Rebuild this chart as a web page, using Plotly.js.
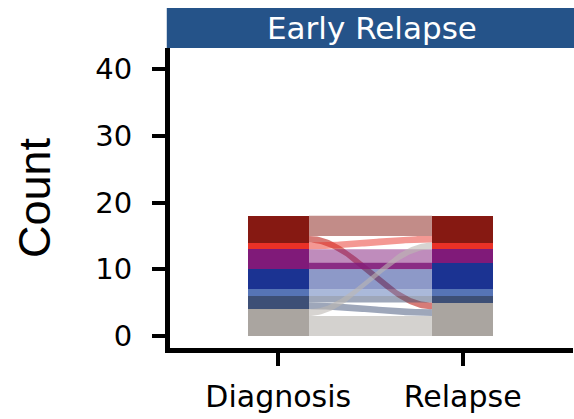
<!DOCTYPE html>
<html><head><meta charset="utf-8">
<script src="https://cdn.plot.ly/plotly-3.0.1.min.js"></script>
<style>html,body{margin:0;padding:0;background:#fff}#chart{width:574px;height:419px}</style>
</head><body><div id="chart"></div>
<script>
// ---------------- data ----------------
const stages = ['Diagnosis', 'Relapse'];
const subtypes = ['Grey', 'Slate', 'LightBlue', 'Blue', 'Purple', 'Red', 'DarkRed']; // bottom -> top
const diagnosisCounts = [4, 2, 1, 3, 3, 1, 4];
const relapseCounts   = [5, 1, 1, 4, 2, 1, 4];
const flowFrom  = ['DarkRed', 'DarkRed', 'Red', 'Purple', 'Purple', 'Blue', 'LightBlue', 'Slate', 'Slate', 'Grey', 'Grey'];
const flowTo    = ['DarkRed', 'Grey', 'DarkRed', 'Purple', 'Blue', 'Blue', 'LightBlue', 'Slate', 'Grey', 'Red', 'Grey'];
const flowCount = [3, 1, 1, 2, 1, 3, 1, 1, 1, 1, 3];
const panelTitle = 'Early Relapse';
const yTitle = 'Count';
const yTickVals = [0, 10, 20, 30, 40];

// ---------------- styles ----------------
const subtypeColors = {
  Grey: '#aaa5a0', Slate: '#3d4f76', LightBlue: '#5674b6', Blue: '#1b3392',
  Purple: '#801a79', Red: '#ea3127', DarkRed: '#861912'
};
const flowAlpha = 0.5;
const flowStyleOverride = {
  'Purple>Blue': {color: '#801a79', alpha: 0.92},
  'DarkRed>Grey': {color: '#c94f4a', alpha: 0.75},
  'Grey>Red': {color: '#bdb8b3', alpha: 0.6}
};
const barWidth = 1 / 3;

function rgba(hex, a) {
  const n = parseInt(hex.slice(1), 16);
  return `rgba(${(n >> 16) & 255},${(n >> 8) & 255},${n & 255},${a})`;
}

// ---------------- layout of flows (computed from data) ----------------
const idx = s => subtypes.indexOf(s);
function cumBase(counts) { const b = []; let c = 0; counts.forEach(v => { b.push(c); c += v; }); return b; }
const diagBase = cumBase(diagnosisCounts), relBase = cumBase(relapseCounts);
const flows = flowFrom.map((f, i) => ({from: f, to: flowTo[i], n: flowCount[i]}));
const leftOff = {}, rightOff = {};
subtypes.forEach(s => { leftOff[s] = diagBase[idx(s)]; rightOff[s] = relBase[idx(s)]; });
[...flows].sort((a, b) => idx(a.from) - idx(b.from) || idx(a.to) - idx(b.to))
  .forEach(fl => { fl.y0 = leftOff[fl.from]; leftOff[fl.from] += fl.n; });
[...flows].sort((a, b) => idx(a.to) - idx(b.to) || idx(a.from) - idx(b.from))
  .forEach(fl => { fl.y1 = rightOff[fl.to]; rightOff[fl.to] += fl.n; });

const xa = barWidth / 2, xb = 1 - barWidth / 2, N = 60;
const flowTraces = flows.map(fl => {
  const xs = [], ys = [];
  const ease = t => (1 - Math.cos(Math.PI * t)) / 2;
  for (let k = 0; k <= N; k++) { const t = k / N; xs.push(xa + (xb - xa) * t); ys.push(fl.y0 + fl.n + (fl.y1 - fl.y0) * ease(t)); }
  for (let k = N; k >= 0; k--) { const t = k / N; xs.push(xa + (xb - xa) * t); ys.push(fl.y0 + (fl.y1 - fl.y0) * ease(t)); }
  const ov = flowStyleOverride[fl.from + '>' + fl.to];
  const col = ov ? rgba(ov.color, ov.alpha) : rgba(subtypeColors[fl.from], flowAlpha);
  return {type: 'scatter', mode: 'lines', x: xs, y: ys, fill: 'toself', fillcolor: col,
          line: {width: 0}, hoverinfo: 'skip', showlegend: false};
});

const barTraces = subtypes.map((s, i) => ({
  type: 'bar', name: s, x: [0, 1], y: [diagnosisCounts[i], relapseCounts[i]], width: barWidth,
  marker: {color: subtypeColors[s], line: {width: 0}}, showlegend: false
}));

const layout = {
  width: 574, height: 419,
  margin: {l: 170, r: 1, t: 48, b: 71, pad: 0},
  paper_bgcolor: '#ffffff', plot_bgcolor: '#ffffff',
  barmode: 'stack', bargap: 0, showlegend: false,
  font: {family: 'DejaVu Sans, Liberation Sans, Arial, sans-serif', color: '#000'},
  xaxis: {
    range: [-0.587, 1.598], tickvals: [0, 1], ticktext: stages,
    showgrid: false, zeroline: false, showline: true, linecolor: '#000', linewidth: 5,
    ticks: 'outside', ticklen: 13, tickwidth: 4, tickcolor: '#000',
    tickfont: {size: 30, color: '#000'}, ticklabelstandoff: 5, fixedrange: true
  },
  yaxis: {
    range: [-1.8, 43.15], tickvals: yTickVals,
    showgrid: false, zeroline: false, showline: true, linecolor: '#000', linewidth: 5,
    ticks: 'outside', ticklen: 13, tickwidth: 4, tickcolor: '#000',
    tickfont: {size: 29, color: '#000'}, ticklabelstandoff: 14, fixedrange: true,
    title: {text: yTitle, standoff: 32, font: {family: 'Liberation Sans, Arial', size: 45, color: '#000'}}
  },
  shapes: [{
    type: 'rect', xref: 'paper', yref: 'paper', x0: -0.008, x1: 1.01, y0: 1.0, y1: 1 + 40 / 300,
    fillcolor: '#255389', line: {width: 0}, layer: 'above'
  }],
  annotations: [{
    text: panelTitle, xref: 'paper', yref: 'paper', x: 0.5, y: 1 + 20 / 300,
    xanchor: 'center', yanchor: 'middle', showarrow: false,
    font: {family: 'DejaVu Sans, Liberation Sans, Arial', size: 31, color: '#ffffff'}
  }]
};

Plotly.newPlot('chart', [...flowTraces, ...barTraces], layout, {displayModeBar: false, staticPlot: true});
</script>
</body></html>
